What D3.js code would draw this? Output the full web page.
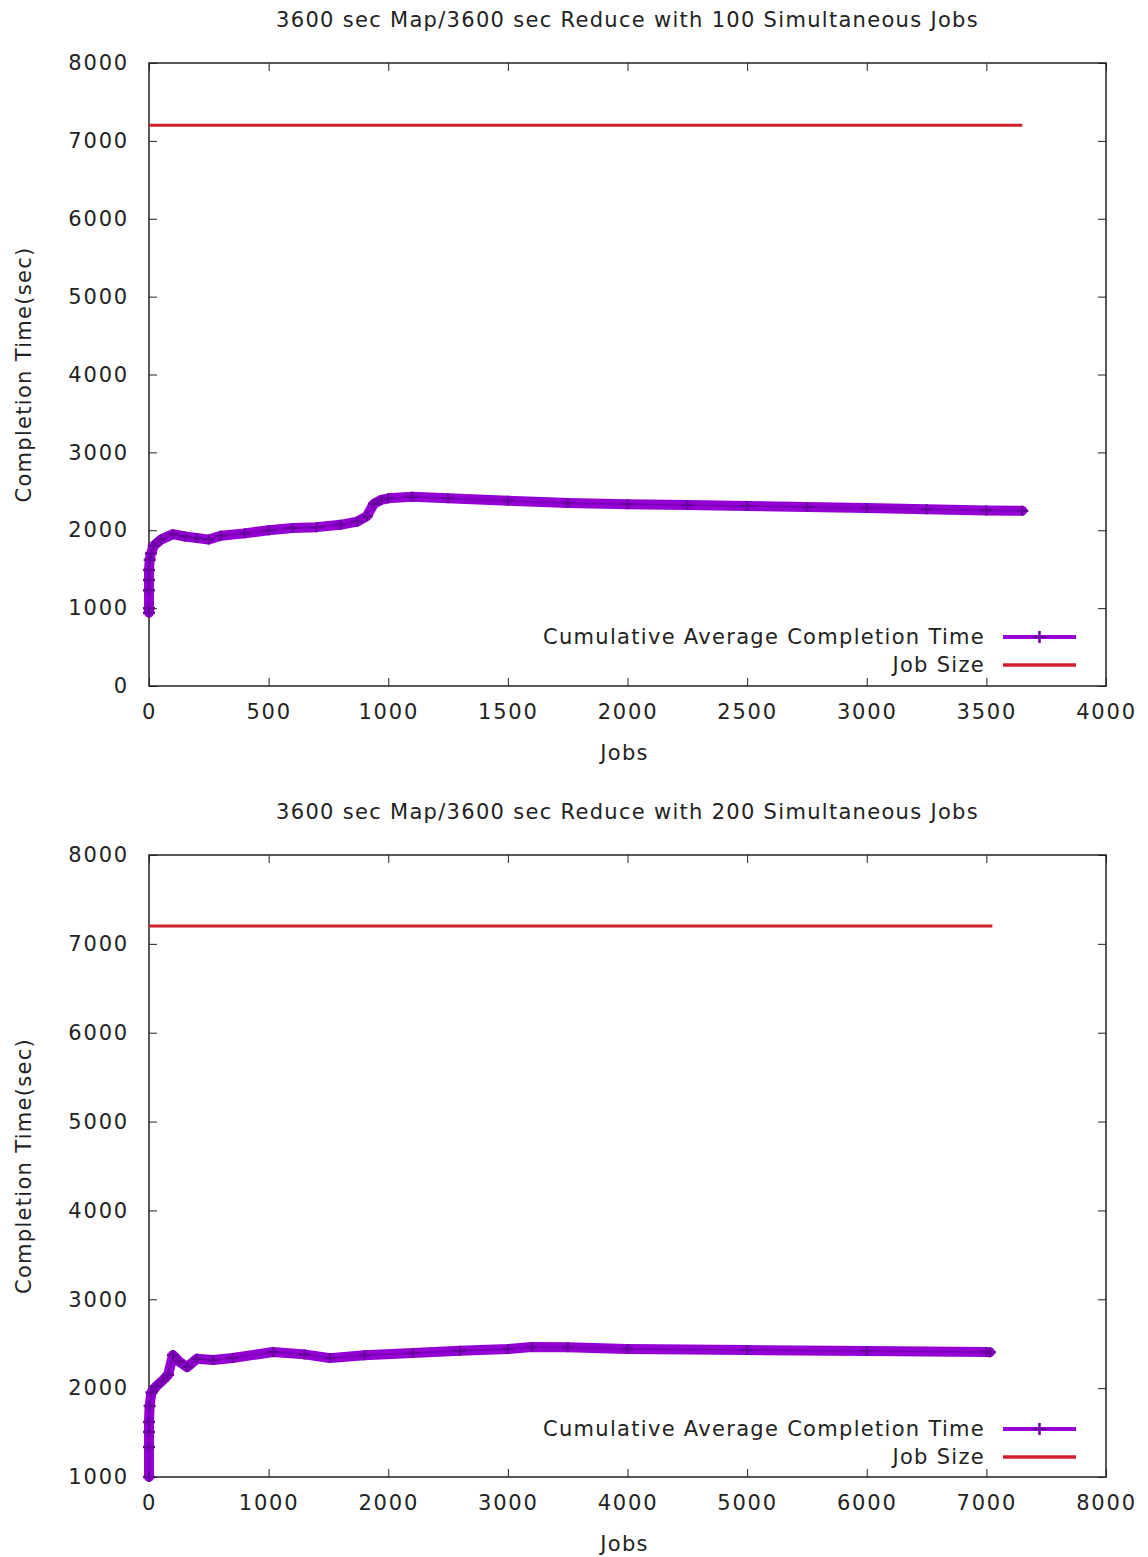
<!DOCTYPE html>
<html><head><meta charset="utf-8">
<script src="https://cdn.jsdelivr.net/npm/d3@7"></script>
<style>body{margin:0;background:#fff}svg text{font-family:"DejaVu Sans",sans-serif;fill:#222}</style>
</head><body><svg id="c" width="1148" height="1557"></svg>
<script>
// ---- data ----
const titles = ["3600 sec Map/3600 sec Reduce with 100 Simultaneous Jobs",
                "3600 sec Map/3600 sec Reduce with 200 Simultaneous Jobs"];
const seriesNames = ["Cumulative Average Completion Time", "Job Size"];
const xLabel = "Jobs";
const yLabel = "Completion Time(sec)";

const topXTicks = [0,500,1000,1500,2000,2500,3000,3500,4000];
const topYTicks = [0,1000,2000,3000,4000,5000,6000,7000,8000];
const topAvgX = [0,0,0,0,0,3,8,20,50,100,150,200,250,300,400,500,600,700,800,870,910,940,970,1000,1100,1250,1500,1750,2000,2250,2500,2750,3000,3250,3500,3650];
const topAvgY = [940,1000,1230,1360,1490,1620,1700,1800,1880,1950,1920,1900,1880,1930,1960,2000,2030,2040,2070,2110,2180,2340,2390,2410,2430,2410,2380,2350,2335,2325,2310,2300,2285,2270,2255,2250];
const topJobX = [0,3650];
const topJobY = [7200,7200];

const botXTicks = [0,1000,2000,3000,4000,5000,6000,7000,8000];
const botYTicks = [1000,2000,3000,4000,5000,6000,7000,8000];
const botAvgX = [0,0,0,0,5,20,60,117,160,200,250,318,400,535,700,1037,1300,1513,1800,2207,2600,3000,3200,3500,4000,5000,6000,7000,7030];
const botAvgY = [1000,1337,1506,1619,1800,1950,2020,2090,2150,2372,2300,2237,2330,2316,2340,2406,2380,2338,2370,2395,2420,2440,2462,2460,2440,2428,2417,2406,2405];
const botJobX = [0,7050];
const botJobY = [7200,7200];

const PURPLE = "#9400d3", RED = "#d0202e";
const FS = 21, LS = 1.3, DLS = 1.8;
const svg = d3.select("#c");

function panel(cfg){
  const {left,right,top,bottom,xDom,yDom,xTicks,yTicks,avgX,avgY,jobX,jobY,title,titleY,legY} = cfg;
  const x = d3.scaleLinear().domain(xDom).range([left,right]);
  const y = d3.scaleLinear().domain(yDom).range([bottom,top]);
  const g = svg.append("g");
  const TL = 8;
  g.append("g").attr("transform",`translate(0,${bottom})`)
    .call(d3.axisBottom(x).tickValues(xTicks).tickSize(-TL).tickPadding(18).tickFormat(d3.format("d")))
    .call(a=>{a.select(".domain").remove();a.selectAll("text").attr("font-size",FS).attr("letter-spacing",DLS).attr("fill","#222");a.selectAll("line").attr("stroke","#222");});
  g.append("g").attr("transform",`translate(0,${top})`)
    .call(d3.axisTop(x).tickValues(xTicks).tickSize(-TL).tickFormat(""))
    .call(a=>{a.select(".domain").remove();a.selectAll("line").attr("stroke","#222");});
  g.append("g").attr("transform",`translate(${left},0)`)
    .call(d3.axisLeft(y).tickValues(yTicks).tickSize(-TL).tickPadding(20).tickFormat(d3.format("d")))
    .call(a=>{a.select(".domain").remove();a.selectAll("text").attr("font-size",FS).attr("letter-spacing",DLS).attr("fill","#222");a.selectAll("line").attr("stroke","#222");});
  g.append("g").attr("transform",`translate(${right},0)`)
    .call(d3.axisRight(y).tickValues(yTicks).tickSize(-TL).tickFormat(""))
    .call(a=>{a.select(".domain").remove();a.selectAll("line").attr("stroke","#222");});
  g.append("rect").attr("x",left).attr("y",top).attr("width",right-left).attr("height",bottom-top)
    .attr("fill","none").attr("stroke","#222").attr("stroke-width",1.5);
  const line = d3.line().x(d=>x(d[0])).y(d=>y(d[1]));
  g.append("path").attr("d",line(d3.zip(jobX,jobY))).attr("fill","none").attr("stroke",RED).attr("stroke-width",3);
  const pts = d3.zip(avgX,avgY);
  g.append("path").attr("d",line(pts)).attr("fill","none").attr("stroke",PURPLE)
    .attr("stroke-width",10).attr("stroke-linejoin","round").attr("stroke-linecap","round");
  g.append("path").attr("d",line(pts)).attr("fill","none").attr("stroke","#7a00b8").attr("stroke-width",1.5);
  pts.forEach(p=>{
    const cx=x(p[0]), cy=y(p[1]);
    g.append("path").attr("d",`M${cx-6},${cy}H${cx+6}M${cx},${cy-5}V${cy+5}`)
      .attr("stroke","#6a00a0").attr("stroke-width",2.5);
  });
  svg.append("text").attr("x",(left+right)/2).attr("y",titleY).attr("text-anchor","middle").attr("font-size",FS).attr("letter-spacing",LS).text(title);
  svg.append("text").attr("x",(left+right)/2-3).attr("y",bottom+74).attr("text-anchor","middle").attr("font-size",FS).attr("letter-spacing",LS).text(xLabel);
  svg.append("text").attr("transform",`translate(31,${(top+bottom)/2}) rotate(-90)`).attr("text-anchor","middle").attr("font-size",FS).attr("letter-spacing",LS).text(yLabel);
  const lx1=1003, lx2=1076, tx=985;
  [[seriesNames[0],PURPLE,true],[seriesNames[1],RED,false]].forEach((s,i)=>{
    const ly = legY + i*28;
    svg.append("text").attr("x",tx).attr("y",ly+7).attr("text-anchor","end").attr("font-size",FS).attr("letter-spacing",LS).text(s[0]);
    svg.append("line").attr("x1",lx1).attr("x2",lx2).attr("y1",ly).attr("y2",ly).attr("stroke",s[1]).attr("stroke-width",s[2]?4:3.5);
    if(s[2]) svg.append("path").attr("d",`M${(lx1+lx2)/2-6},${ly}H${(lx1+lx2)/2+6}M${(lx1+lx2)/2},${ly-6}V${ly+6}`).attr("stroke","#6a00a0").attr("stroke-width",2.5);
  });
}

panel({left:149,right:1106,top:63,bottom:686,xDom:[0,4000],yDom:[0,8000],xTicks:topXTicks,yTicks:topYTicks,
  avgX:topAvgX,avgY:topAvgY,jobX:topJobX,jobY:topJobY,title:titles[0],titleY:27,legY:637});
panel({left:149,right:1106,top:855,bottom:1477,xDom:[0,8000],yDom:[1000,8000],xTicks:botXTicks,yTicks:botYTicks,
  avgX:botAvgX,avgY:botAvgY,jobX:botJobX,jobY:botJobY,title:titles[1],titleY:819,legY:1429});
</script></body></html>
